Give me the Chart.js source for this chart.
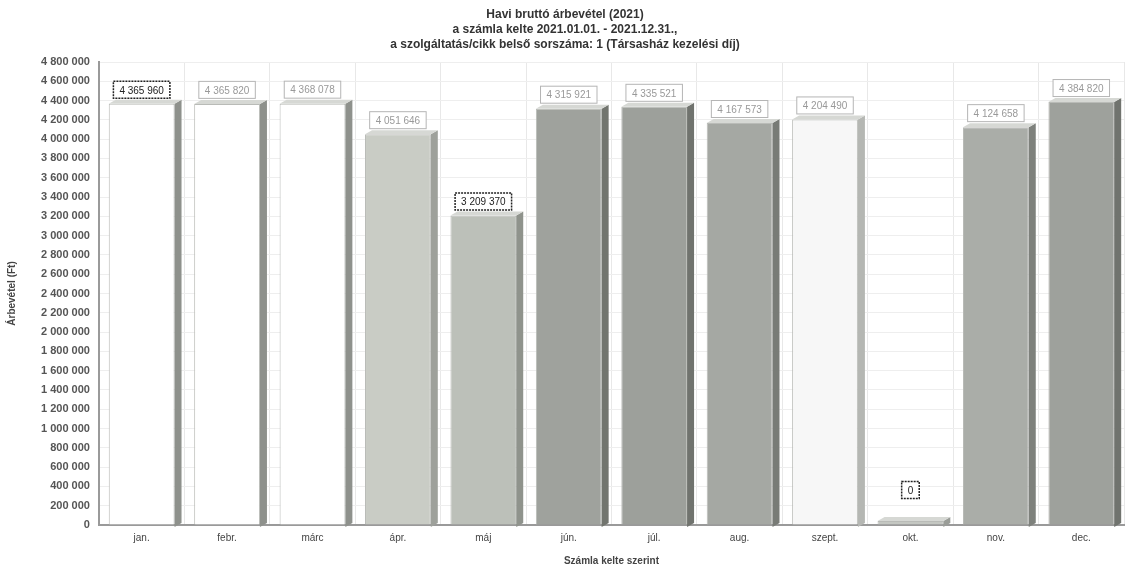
<!DOCTYPE html>
<html>
<head>
<meta charset="utf-8">
<script src="https://cdn.jsdelivr.net/npm/chart.js@4/dist/chart.umd.min.js"></script>
<style>
  html, body { margin: 0; padding: 0; background: #fff; }
  #wrap { width: 1132px; height: 568px; }
</style>
</head>
<body>
<div id="wrap"><canvas id="c" width="1132" height="568"></canvas></div>
<script>
const months = ['jan.', 'febr.', 'márc', 'ápr.', 'máj', 'jún.', 'júl.', 'aug.', 'szept.', 'okt.', 'nov.', 'dec.'];
const revenue = [4365960, 4365820, 4368078, 4051646, 3209370, 4315921, 4335521, 4167573, 4204490, 0, 4124658, 4384820];
const barColors = ['#ffffff', '#ffffff', '#ffffff', '#c9ccc5', '#bcc0b9', '#9fa29d', '#9da09b', '#a5a8a3', '#f7f7f7', '#c4c7c2', '#aaada8', '#9ea19c'];
const sideColors = ['#8e918c', '#8e918c', '#8e918c', '#9ea19b', '#8f938c', '#72756f', '#70736e', '#787b76', '#b5b7b3', '#9a9d98', '#7e817c', '#70736e'];
const darkLabels = [0, 4, 9];

function fmt(v) {
  return String(v).replace(/\B(?=(\d{3})+(?!\d))/g, ' ');
}

// 3D-ish side face and value boxes
const decor = {
  id: 'decor',
  afterDatasetsDraw(chart) {
    const ctx = chart.ctx;
    const meta = chart.getDatasetMeta(0);
    const base = chart.scales.y.getPixelForValue(0);
    meta.data.forEach((bar, i) => {
      const w = bar.width;
      const x1 = bar.x + w / 2;
      const top = Math.min(bar.y, base - 4);
      const d = 7;
      ctx.save();
      ctx.fillStyle = sideColors[i];
      ctx.beginPath();
      ctx.moveTo(x1, top);
      ctx.lineTo(x1 + d, top - 4);
      ctx.lineTo(x1 + d, base - 2);
      ctx.lineTo(x1, base + 2);
      ctx.closePath();
      ctx.fill();
      ctx.fillStyle = '#d6d8d4';
      ctx.beginPath();
      ctx.moveTo(x1 - w, top);
      ctx.lineTo(x1 - w + d, top - 4);
      ctx.lineTo(x1 + d, top - 4);
      ctx.lineTo(x1, top);
      ctx.closePath();
      ctx.fill();
      ctx.restore();
    });
    meta.data.forEach((bar, i) => {
      const dark = darkLabels.includes(i);
      const txt = fmt(revenue[i]);
      ctx.save();
      ctx.font = '10px "Liberation Sans", sans-serif';
      const tw = ctx.measureText(txt).width;
      const bw = tw + 12, bh = 17;
      let cy = bar.y - 14;
      let cx = bar.x;
      if (revenue[i] === 0) { cy = bar.y - 31; }
      ctx.fillStyle = '#fff';
      ctx.fillRect(cx - bw / 2, cy - bh / 2, bw, bh);
      ctx.strokeStyle = dark ? '#222' : '#b5b5b5';
      ctx.lineWidth = dark ? 1.5 : 1;
      if (dark) ctx.setLineDash([2, 1]);
      ctx.strokeRect(cx - bw / 2, cy - bh / 2, bw, bh);
      ctx.fillStyle = dark ? '#222' : '#999';
      ctx.textAlign = 'center';
      ctx.textBaseline = 'middle';
      ctx.fillText(txt, cx, cy + 1);
      ctx.restore();
    });
  }
};

new Chart(document.getElementById('c'), {
  type: 'bar',
  data: {
    labels: months,
    datasets: [{
      data: revenue,
      backgroundColor: barColors,
      borderColor: '#b9bbb7',
      borderWidth: 1,
      barPercentage: 0.77,
      categoryPercentage: 1.0,
      minBarLength: 4
    }]
  },
  options: {
    responsive: false,
    animation: false,
    layout: { padding: { left: 6, right: 8, top: 0, bottom: 1 } },
    plugins: {
      legend: { display: false },
      tooltip: { enabled: false },
      title: {
        display: true,
        text: ['Havi bruttó árbevétel (2021)', 'a számla kelte 2021.01.01. - 2021.12.31.,', 'a szolgáltatás/cikk belső sorszáma: 1 (Társasház kezelési díj)'],
        color: '#333',
        font: { family: '"Liberation Sans", Arial, sans-serif', size: 12, weight: 'bold', lineHeight: 1.25 },
        padding: { top: 7, bottom: 10 }
      }
    },
    scales: {
      x: {
        grid: { display: true, color: '#e8e8e8', drawTicks: false },
        border: { color: '#9a9a9a', width: 2 },
        ticks: { color: '#444', font: { family: '"Liberation Sans", sans-serif', size: 10 }, padding: 7 },
        title: {
          display: true,
          text: 'Számla kelte szerint',
          color: '#444',
          font: { family: '"Liberation Sans", Arial, sans-serif', size: 10, weight: 'bold' },
          padding: { top: 4, bottom: 0 }
        }
      },
      y: {
        min: 0,
        max: 4800000,
        grid: { color: '#eeeeee', drawTicks: false },
        border: { color: '#9a9a9a', width: 2 },
        ticks: {
          stepSize: 200000,
          color: '#555',
          padding: 9,
          font: { family: '"Liberation Sans", sans-serif', size: 11, weight: 'bold' },
          callback: v => fmt(v)
        },
        title: {
          display: true,
          text: 'Árbevétel (Ft)',
          color: '#444',
          font: { family: '"Liberation Sans", Arial, sans-serif', size: 10, weight: 'bold' },
          padding: { top: 0, bottom: 14 }
        }
      }
    }
  },
  plugins: [decor]
});
</script>
</body>
</html>
